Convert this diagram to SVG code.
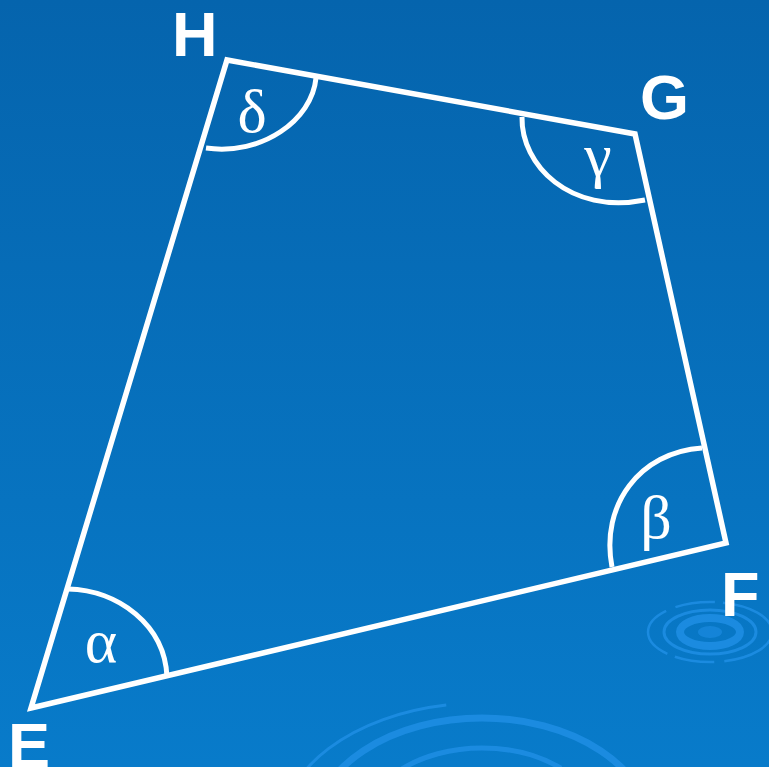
<svg xmlns="http://www.w3.org/2000/svg" width="769" height="767" viewBox="0 0 769 767">
<defs>
<linearGradient id="bg" x1="0" y1="0" x2="0" y2="1">
<stop offset="0" stop-color="#0564ad"/>
<stop offset="1" stop-color="#087bca"/>
</linearGradient>
<style>
.edge{fill:none;stroke:#fff;stroke-width:5.5;stroke-linejoin:miter;stroke-linecap:square}
.arc{fill:none;stroke:#fff;stroke-width:5}
.vl{font-family:"Liberation Sans",Arial,sans-serif;font-weight:bold;font-size:63px;fill:#fff}
.gk{font-family:"Liberation Serif","Times New Roman",serif;font-size:62px;fill:#fff;text-anchor:middle}
.rp{fill:none;stroke:#1e8ee4;stroke-opacity:0.85}
</style>
</defs>
<rect width="769" height="767" fill="url(#bg)"/>
<g id="ripples">
<ellipse class="rp" cx="482" cy="830" rx="200" ry="127" stroke-width="3" stroke-dasharray="230 14 500"/>
<ellipse class="rp" cx="482" cy="830" rx="168" ry="112" stroke-width="7"/>
<ellipse class="rp" cx="482" cy="830" rx="120" ry="82" stroke-width="5" stroke-dasharray="150 12 400"/>
<ellipse class="rp" cx="710" cy="632" rx="62" ry="30" stroke-width="2.5" stroke-dasharray="60 10 40 8"/>
<ellipse class="rp" cx="710" cy="632" rx="46" ry="22" stroke-width="3"/>
<ellipse class="rp" cx="710" cy="632" rx="30" ry="14" stroke-width="8"/>
<ellipse cx="710" cy="632" rx="12" ry="6" fill="#1e8ee4" opacity="0.6"/>
</g>
<g id="connectors">
<path class="edge" d="M31,708 L726,543 L635,134 L227,60 Z"/>
</g>
<g id="angle-alpha"><path class="arc" d="M68,589 C118,590 165,625 167,677"/><text class="gk" x="101" y="662">α</text></g>
<g id="angle-beta"><path class="arc" d="M702,448 C640,452 600,505 612,567"/><text class="gk" x="656" y="538">β</text></g>
<g id="angle-gamma"><path class="arc" d="M522,117 C521,165 570,215 645,200"/><text class="gk" x="598" y="176">γ</text></g>
<g id="angle-delta"><path class="arc" d="M206,148 C262,156 312,120 316,78"/><text class="gk" x="252" y="132">δ</text></g>
<g id="node-E"><text class="vl" x="8" y="767">E</text></g>
<g id="node-F"><text class="vl" x="721" y="616">F</text></g>
<g id="node-G"><text class="vl" x="640" y="119">G</text></g>
<g id="node-H"><text class="vl" x="172" y="56">H</text></g>
</svg>
